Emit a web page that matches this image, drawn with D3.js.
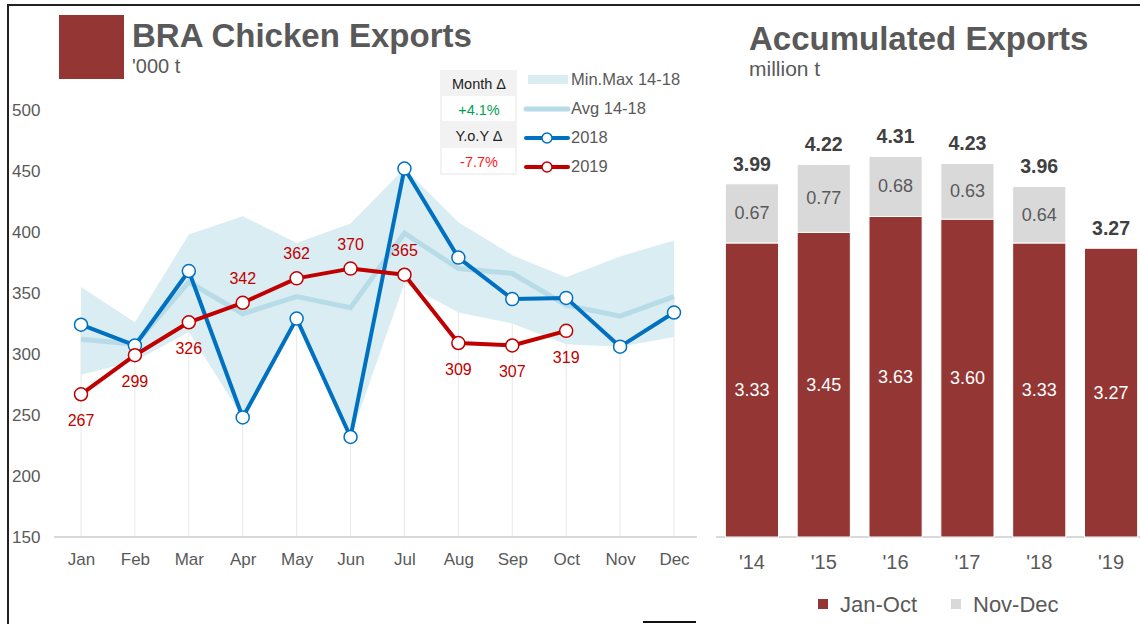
<!DOCTYPE html>
<html>
<head>
<meta charset="utf-8">
<script src="https://cdn.jsdelivr.net/npm/d3@7"></script>
<style>
  body { margin: 0; background: #fff; }
  svg { font-family: "Liberation Sans", Arial, sans-serif; }
</style>
</head>
<body>
<div class="chart"></div>
<script>
// chart data
var months = ["Jan", "Feb", "Mar", "Apr", "May", "Jun", "Jul", "Aug", "Sep", "Oct", "Nov", "Dec"];
var minRange = [283, 294, 318, 248, 328, 232, 358, 334, 325, 308, 306, 314];
var maxRange = [355, 326, 398, 413, 391, 407, 452, 408, 381, 363, 380, 393];
var avg1418 = [312, 308, 359, 333, 347, 338, 399, 370, 366, 340, 331, 347];
var exp2018 = [324, 307, 368, 248, 329, 232, 452, 379, 345, 346, 306, 334];
var exp2019 = [267, 299, 326, 342, 362, 370, 365, 309, 307, 319];
var labelBelow = [true, true, true, false, false, false, false, true, true, true];
var yTicks = [150, 200, 250, 300, 350, 400, 450, 500];

var years = ["'14", "'15", "'16", "'17", "'18", "'19"];
var janOct = [3.33, 3.45, 3.63, 3.60, 3.33, 3.27];
var novDec = [0.67, 0.77, 0.68, 0.63, 0.64, 0];
var totals = ["3.99", "4.22", "4.31", "4.23", "3.96", "3.27"];

var grey = "#595959";
var red = "#c00000";
var blue = "#0070c0";
var brick = "#943634";
var fontName = "Liberation Sans, Arial, sans-serif";

var svg = d3.select(".chart")
    .append("svg")
    .attr("width", 1140)
    .attr("height", 624);

// frame lines
svg.append("path")
    .attr("d", "M8,624 L8,5 L1140,5")
    .attr("fill", "none")
    .attr("stroke", "#222")
    .attr("stroke-width", 2);
svg.append("line")
    .attr("x1", 643).attr("x2", 696)
    .attr("y1", 622).attr("y2", 622)
    .attr("stroke", "#111")
    .attr("stroke-width", 2);

// ---------- left chart ----------
var xScale = d3.scalePoint().domain(months).range([81, 674]);
var yScale = d3.scaleLinear().domain([150, 500]).range([537, 110]);

svg.append("rect")
    .attr("x", 59).attr("y", 15)
    .attr("width", 65).attr("height", 64)
    .attr("fill", brick);

svg.append("text")
    .attr("x", 132).attr("y", 47)
    .attr("font-size", "33px")
    .attr("font-weight", "bold")
    .attr("fill", grey)
    .text("BRA Chicken Exports");

svg.append("text")
    .attr("x", 132).attr("y", 73)
    .attr("font-size", "20px")
    .attr("fill", grey)
    .text("'000 t");

var leftAxis = d3.axisLeft(yScale).tickValues(yTicks).tickSize(0);
var yAxisG = svg.append("g")
    .attr("transform", "translate(12,0)")
    .call(leftAxis);
yAxisG.select(".domain").remove();
yAxisG.selectAll("text")
    .attr("x", 0)
    .attr("text-anchor", "start")
    .attr("font-size", "17px")
    .attr("font-family", fontName)
    .attr("fill", grey);

// drop lines
svg.append("g").selectAll("line")
    .data(months)
    .enter()
    .append("line")
    .attr("x1", function(d) { return xScale(d); })
    .attr("x2", function(d) { return xScale(d); })
    .attr("y1", function(d, i) {
        var top = Math.max(exp2018[i], avg1418[i], i < exp2019.length ? exp2019[i] : 0);
        return yScale(top);
    })
    .attr("y2", yScale(150))
    .attr("stroke", "#e8e8e8")
    .attr("stroke-width", 1);

// band
var area = d3.area()
    .x(function(d, i) { return xScale(months[i]); })
    .y0(function(d, i) { return yScale(minRange[i]); })
    .y1(function(d, i) { return yScale(maxRange[i]); });

svg.append("path")
    .datum(months)
    .attr("d", area)
    .attr("fill", "#daedf3");

var line = d3.line()
    .x(function(d, i) { return xScale(months[i]); })
    .y(function(d) { return yScale(d); });

svg.append("path")
    .datum(avg1418)
    .attr("d", line)
    .attr("fill", "none")
    .attr("stroke", "#b7dce7")
    .attr("stroke-width", 5);

// baseline
svg.append("line")
    .attr("x1", 54).attr("x2", 697)
    .attr("y1", yScale(150)).attr("y2", yScale(150))
    .attr("stroke", "#d9d9d9")
    .attr("stroke-width", 2);

var bottomAxis = d3.axisBottom(xScale).tickSize(0);
var xAxisG = svg.append("g")
    .attr("transform", "translate(0," + yScale(150) + ")")
    .call(bottomAxis);
xAxisG.select(".domain").remove();
xAxisG.selectAll("text")
    .attr("y", 28)
    .attr("dy", null)
    .attr("font-size", "17px")
    .attr("font-family", fontName)
    .attr("fill", grey);

function drawSeries(values, color) {
    svg.append("path")
        .datum(values)
        .attr("d", line)
        .attr("fill", "none")
        .attr("stroke", color)
        .attr("stroke-width", 4)
        .attr("stroke-linejoin", "round");
    svg.append("g").selectAll("circle")
        .data(values)
        .enter()
        .append("circle")
        .attr("cx", function(d, i) { return xScale(months[i]); })
        .attr("cy", function(d) { return yScale(d); })
        .attr("r", 6.5)
        .attr("fill", "#fff")
        .attr("stroke", color)
        .attr("stroke-width", 1.5);
}

drawSeries(exp2018, blue);
drawSeries(exp2019, red);

svg.append("g").selectAll("text")
    .data(exp2019)
    .enter()
    .append("text")
    .attr("x", function(d, i) { return xScale(months[i]); })
    .attr("y", function(d, i) {
        return labelBelow[i] ? yScale(d) + 32 : yScale(d) - 19;
    })
    .attr("text-anchor", "middle")
    .attr("font-size", "16px")
    .attr("fill", red)
    .text(function(d) { return d; });

// delta table
svg.append("rect")
    .attr("x", 440).attr("y", 70)
    .attr("width", 77).attr("height", 105)
    .attr("fill", "#f2f2f2");
svg.append("rect")
    .attr("x", 442).attr("y", 96)
    .attr("width", 73).attr("height", 25)
    .attr("fill", "#fff");
svg.append("rect")
    .attr("x", 442).attr("y", 148)
    .attr("width", 73).attr("height", 25)
    .attr("fill", "#fff");

var tableRows = [
    { text: "Month \u0394", y: 89, color: "#222" },
    { text: "+4.1%", y: 115, color: "#00a050" },
    { text: "Y.o.Y \u0394", y: 141, color: "#222" },
    { text: "-7.7%", y: 167, color: "#ff1a1a" }
];
svg.append("g").selectAll("text")
    .data(tableRows)
    .enter()
    .append("text")
    .attr("x", 479)
    .attr("y", function(d) { return d.y; })
    .attr("text-anchor", "middle")
    .attr("font-size", "14.5px")
    .attr("fill", function(d) { return d.color; })
    .text(function(d) { return d.text; });

// legend
var legendX = 526;
svg.append("rect")
    .attr("x", legendX + 2).attr("y", 75)
    .attr("width", 40).attr("height", 9)
    .attr("fill", "#daedf3");
svg.append("line")
    .attr("x1", legendX).attr("x2", legendX + 42)
    .attr("y1", 109).attr("y2", 109)
    .attr("stroke", "#b7dce7")
    .attr("stroke-width", 5)
    .attr("stroke-linecap", "round");
[[blue, 138], [red, 167]].forEach(function(s) {
    svg.append("line")
        .attr("x1", legendX).attr("x2", legendX + 42)
        .attr("y1", s[1]).attr("y2", s[1])
        .attr("stroke", s[0])
        .attr("stroke-width", 4)
        .attr("stroke-linecap", "round");
    svg.append("circle")
        .attr("cx", legendX + 21).attr("cy", s[1])
        .attr("r", 5)
        .attr("fill", "#fff")
        .attr("stroke", s[0])
        .attr("stroke-width", 1.5);
});
var legendText = [["Min.Max 14-18", 85], ["Avg 14-18", 114], ["2018", 143], ["2019", 172]];
svg.append("g").selectAll("text")
    .data(legendText)
    .enter()
    .append("text")
    .attr("x", 571)
    .attr("y", function(d) { return d[1]; })
    .attr("font-size", "16.5px")
    .attr("fill", grey)
    .text(function(d) { return d[0]; });

// ---------- right chart ----------
svg.append("text")
    .attr("x", 749).attr("y", 50)
    .attr("font-size", "33px")
    .attr("font-weight", "bold")
    .attr("fill", grey)
    .text("Accumulated Exports");

svg.append("text")
    .attr("x", 749).attr("y", 76)
    .attr("font-size", "21px")
    .attr("fill", grey)
    .text("million t");

var xBand = d3.scaleBand().domain(years).range([716, 1147]).paddingInner(0.26).paddingOuter(0.13);
var yBar = d3.scaleLinear().domain([0, 4.5]).range([537, 537 - 4.5 * 88.3]);

svg.append("line")
    .attr("x1", 716).attr("x2", 1140)
    .attr("y1", 537).attr("y2", 537)
    .attr("stroke", "#d9d9d9")
    .attr("stroke-width", 2);

var bars = svg.append("g");
bars.selectAll("rect.jo")
    .data(janOct)
    .enter()
    .append("rect")
    .attr("class", "jo")
    .attr("x", function(d, i) { return xBand(years[i]); })
    .attr("y", function(d) { return yBar(d); })
    .attr("width", xBand.bandwidth())
    .attr("height", function(d) { return yBar(0) - yBar(d); })
    .attr("fill", brick)
    .attr("stroke", "#fff")
    .attr("stroke-width", 1);

bars.selectAll("rect.nd")
    .data(novDec)
    .enter()
    .append("rect")
    .attr("class", "nd")
    .attr("x", function(d, i) { return xBand(years[i]); })
    .attr("y", function(d, i) { return yBar(janOct[i] + d); })
    .attr("width", xBand.bandwidth())
    .attr("height", function(d) { return yBar(0) - yBar(d); })
    .attr("fill", "#d9d9d9")
    .attr("stroke", "#fff")
    .attr("stroke-width", 1);

bars.selectAll("text.jo")
    .data(janOct)
    .enter()
    .append("text")
    .attr("class", "jo")
    .attr("x", function(d, i) { return xBand(years[i]) + xBand.bandwidth() / 2; })
    .attr("y", function(d) { return (yBar(d) + yBar(0)) / 2 + 6; })
    .attr("text-anchor", "middle")
    .attr("font-size", "18px")
    .attr("fill", "#fff")
    .text(function(d) { return d.toFixed(2); });

bars.selectAll("text.nd")
    .data(novDec.filter(function(d) { return d > 0; }))
    .enter()
    .append("text")
    .attr("class", "nd")
    .attr("x", function(d, i) { return xBand(years[i]) + xBand.bandwidth() / 2; })
    .attr("y", function(d, i) { return yBar(janOct[i] + d / 2) + 6; })
    .attr("text-anchor", "middle")
    .attr("font-size", "18px")
    .attr("fill", grey)
    .text(function(d) { return d.toFixed(2); });

bars.selectAll("text.tot")
    .data(totals)
    .enter()
    .append("text")
    .attr("class", "tot")
    .attr("x", function(d, i) { return xBand(years[i]) + xBand.bandwidth() / 2; })
    .attr("y", function(d, i) { return yBar(janOct[i] + novDec[i]) - 13; })
    .attr("text-anchor", "middle")
    .attr("font-size", "19.5px")
    .attr("font-weight", "bold")
    .attr("fill", "#404040")
    .text(function(d) { return d; });

var barAxis = svg.append("g")
    .attr("transform", "translate(0,537)")
    .call(d3.axisBottom(xBand).tickSize(0));
barAxis.select(".domain").remove();
barAxis.selectAll("text")
    .attr("y", 32)
    .attr("dy", null)
    .attr("font-size", "20px")
    .attr("font-family", fontName)
    .attr("fill", grey);

// bar legend
var barLegend = [["Jan-Oct", brick, 818], ["Nov-Dec", "#d9d9d9", 951]];
barLegend.forEach(function(l) {
    svg.append("rect")
        .attr("x", l[2]).attr("y", 599)
        .attr("width", 10).attr("height", 10)
        .attr("fill", l[1]);
    svg.append("text")
        .attr("x", l[2] + 22).attr("y", 612)
        .attr("font-size", "22px")
        .attr("fill", grey)
        .text(l[0]);
});
</script>
</body>
</html>
